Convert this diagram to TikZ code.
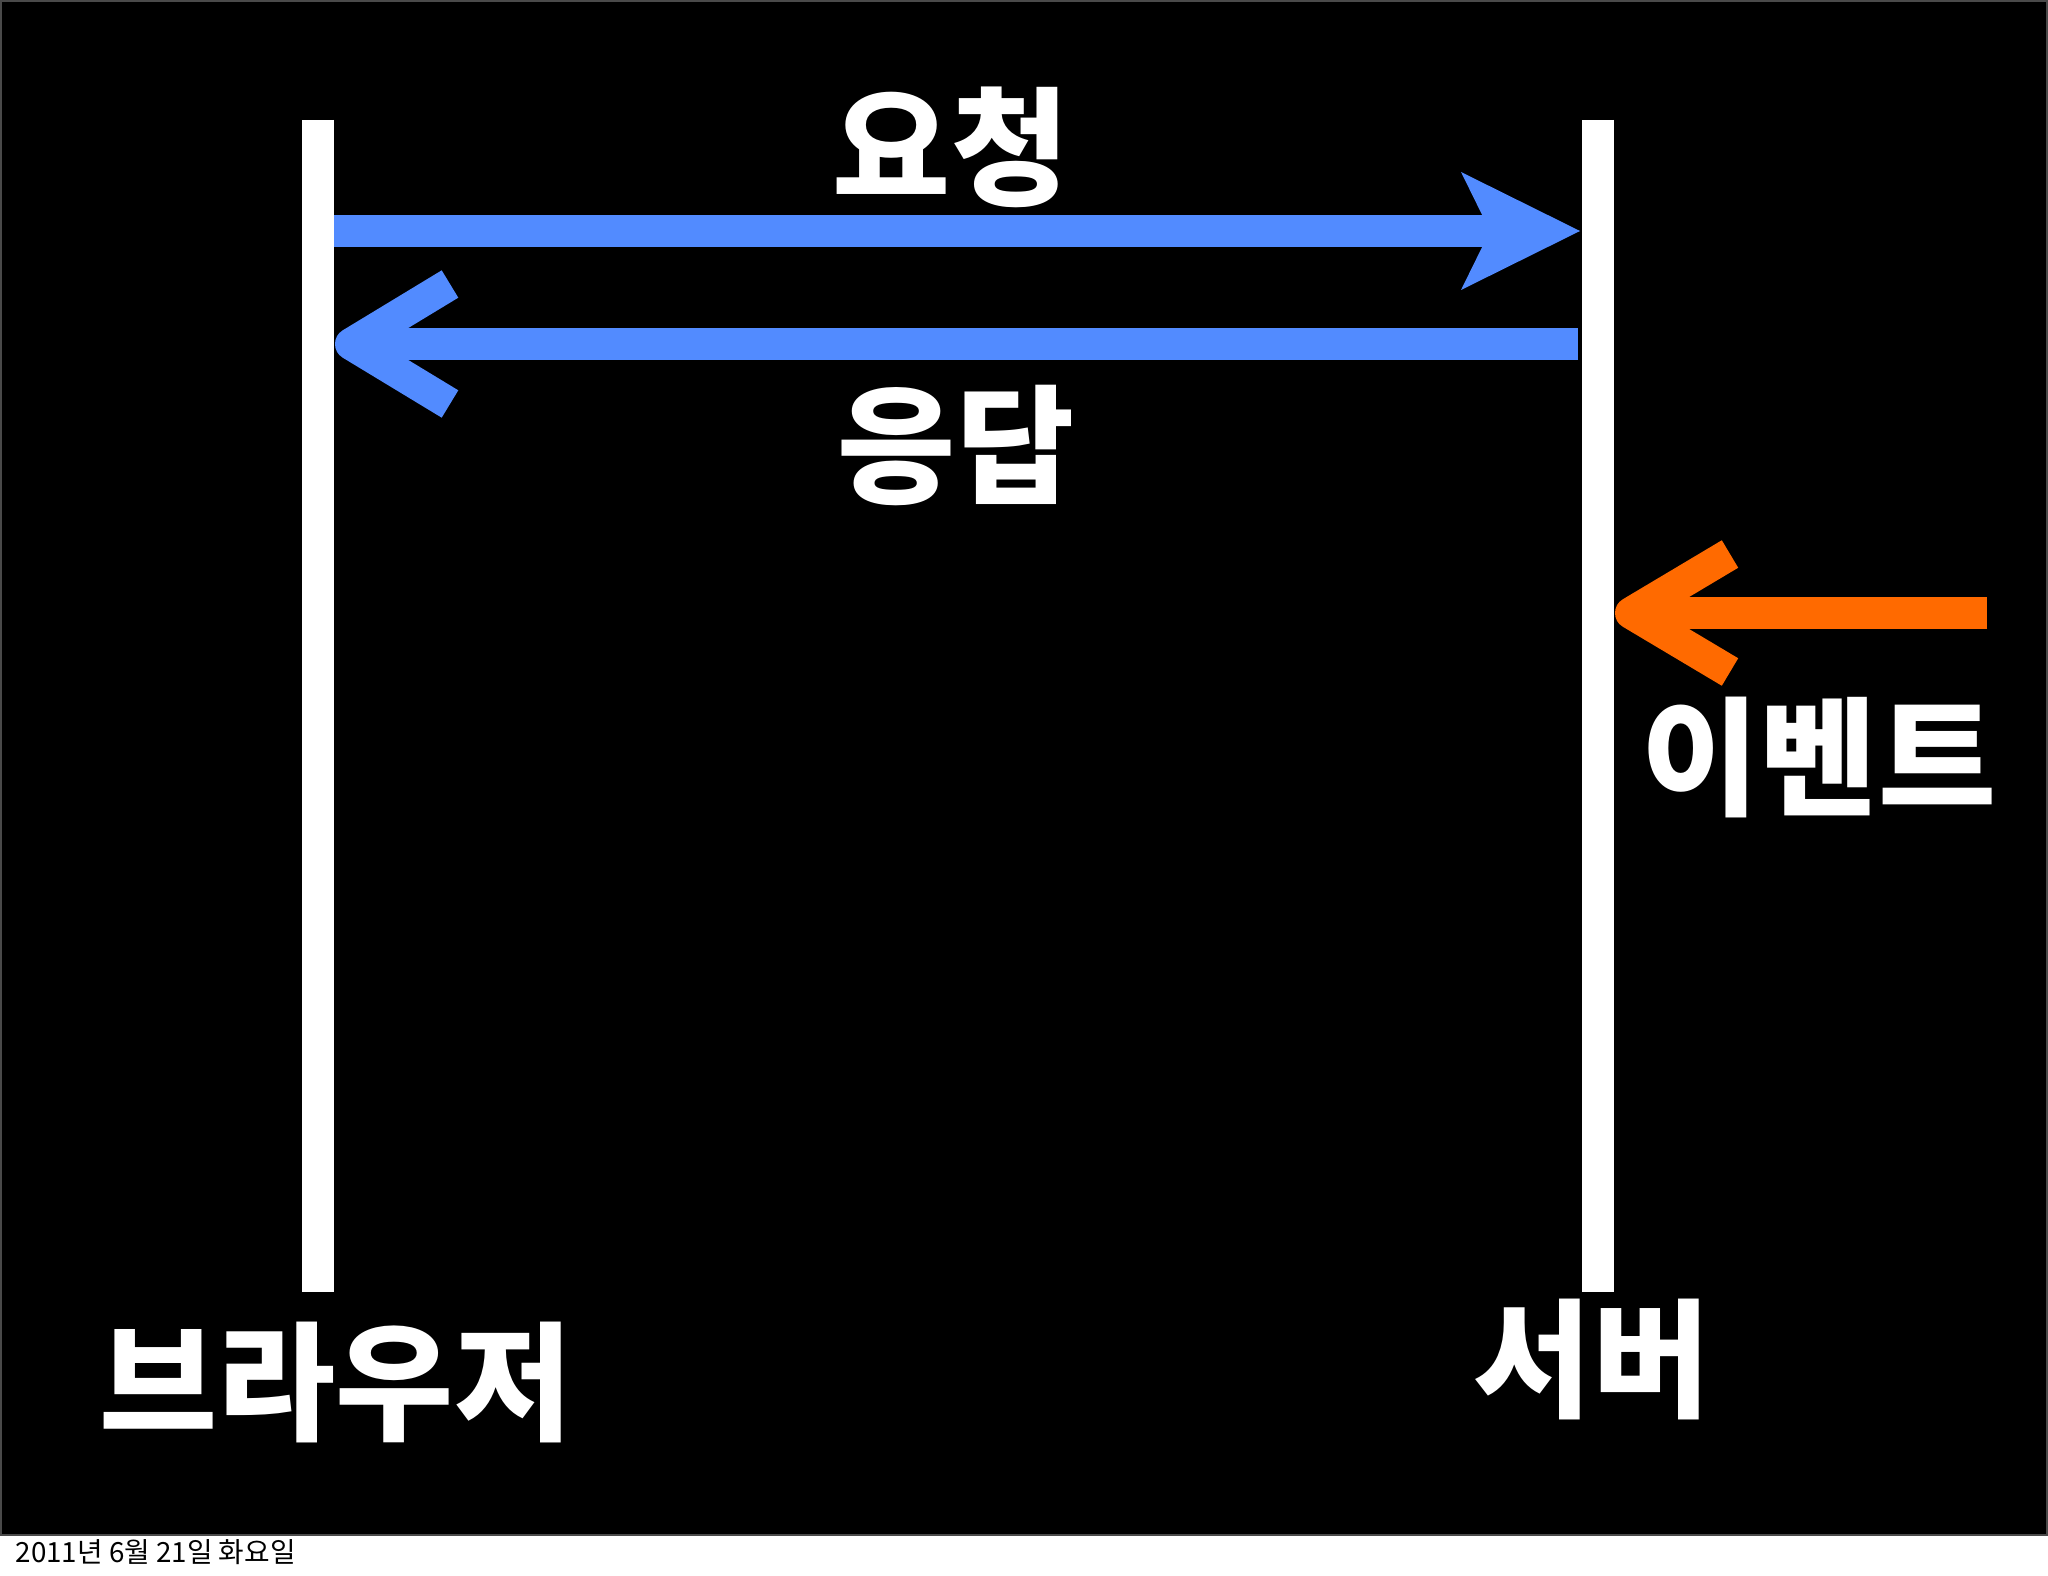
\documentclass[tikz,border=0pt]{standalone}
\usepackage{fontspec}
\setmainfont{Noto Sans CJK KR}
\usepackage{xcolor}

\definecolor{blurichiesta}{HTML}{528BFF}
\definecolor{arancioevento}{HTML}{FF6A00}
\definecolor{bordodia}{HTML}{4A4A4A}

\begin{document}
\begin{tikzpicture}[x=0.01cm, y=-0.01cm,
    barra/.style={draw=white, line width=9.1pt},
    asta/.style={line width=9.1pt},
    punta/.style={line width=9.1pt, line join=round},
    etichetta/.style={text=white, inner sep=0pt, font=\fontsize{36.5}{36.5}\selectfont\bfseries}]

% Sfondo della diapositiva
\useasboundingbox (0,0) rectangle (2048,1576);
\fill[white] (0,0) rectangle (2048,1576);
\filldraw[fill=black, draw=bordodia, line width=0.6pt] (1,1) rectangle (2047,1535);

% Linee verticali: browser e server
\coordinate (browserSu) at (318,120);
\coordinate (browserGiu) at (318,1292);
\coordinate (serverSu) at (1598,120);
\coordinate (serverGiu) at (1598,1292);
\draw[barra] (browserSu) -- (browserGiu);
\draw[barra] (serverSu) -- (serverGiu);

% Freccia di richiesta (browser -> server)
\coordinate (richInizio) at (334,231);
\coordinate (richFine) at (1505,231);
\draw[asta, blurichiesta] (richInizio) -- (richFine);
\fill[blurichiesta] (1580,231) -- (1461,172) -- (1490,231) -- (1461,290) -- cycle; % punta piena

% Freccia di risposta (server -> browser)
\coordinate (rispInizio) at (1578,344);
\coordinate (rispFine) at (351,344);
\draw[asta, blurichiesta] (rispInizio) -- (rispFine);
\draw[punta, blurichiesta] (450,284) -- (rispFine) -- (450,404); % punta a chevron

% Freccia dell'evento (verso il server)
\coordinate (evInizio) at (1987,613);
\coordinate (evFine) at (1631,613);
\draw[asta, arancioevento] (evInizio) -- (evFine);
\draw[punta, arancioevento] (1730,554) -- (evFine) -- (1730,672); % punta a chevron

% Etichette
\node[etichetta] (richiesta) at (951,147) {요청};
\node[etichetta] (risposta) at (956,445) {응답};
\node[etichetta] (evento) at (1819,757) {이벤트};
\node[etichetta] (browser) at (336,1382) {브라우저};
\node[etichetta] (server) at (1592,1359) {서버};

% Data in basso
\node[anchor=base west, inner sep=0pt, font=\fontsize{7.9}{7.9}\selectfont] (data) at (15,1562) {2011년 6월 21일 화요일};

\end{tikzpicture}
\end{document}
